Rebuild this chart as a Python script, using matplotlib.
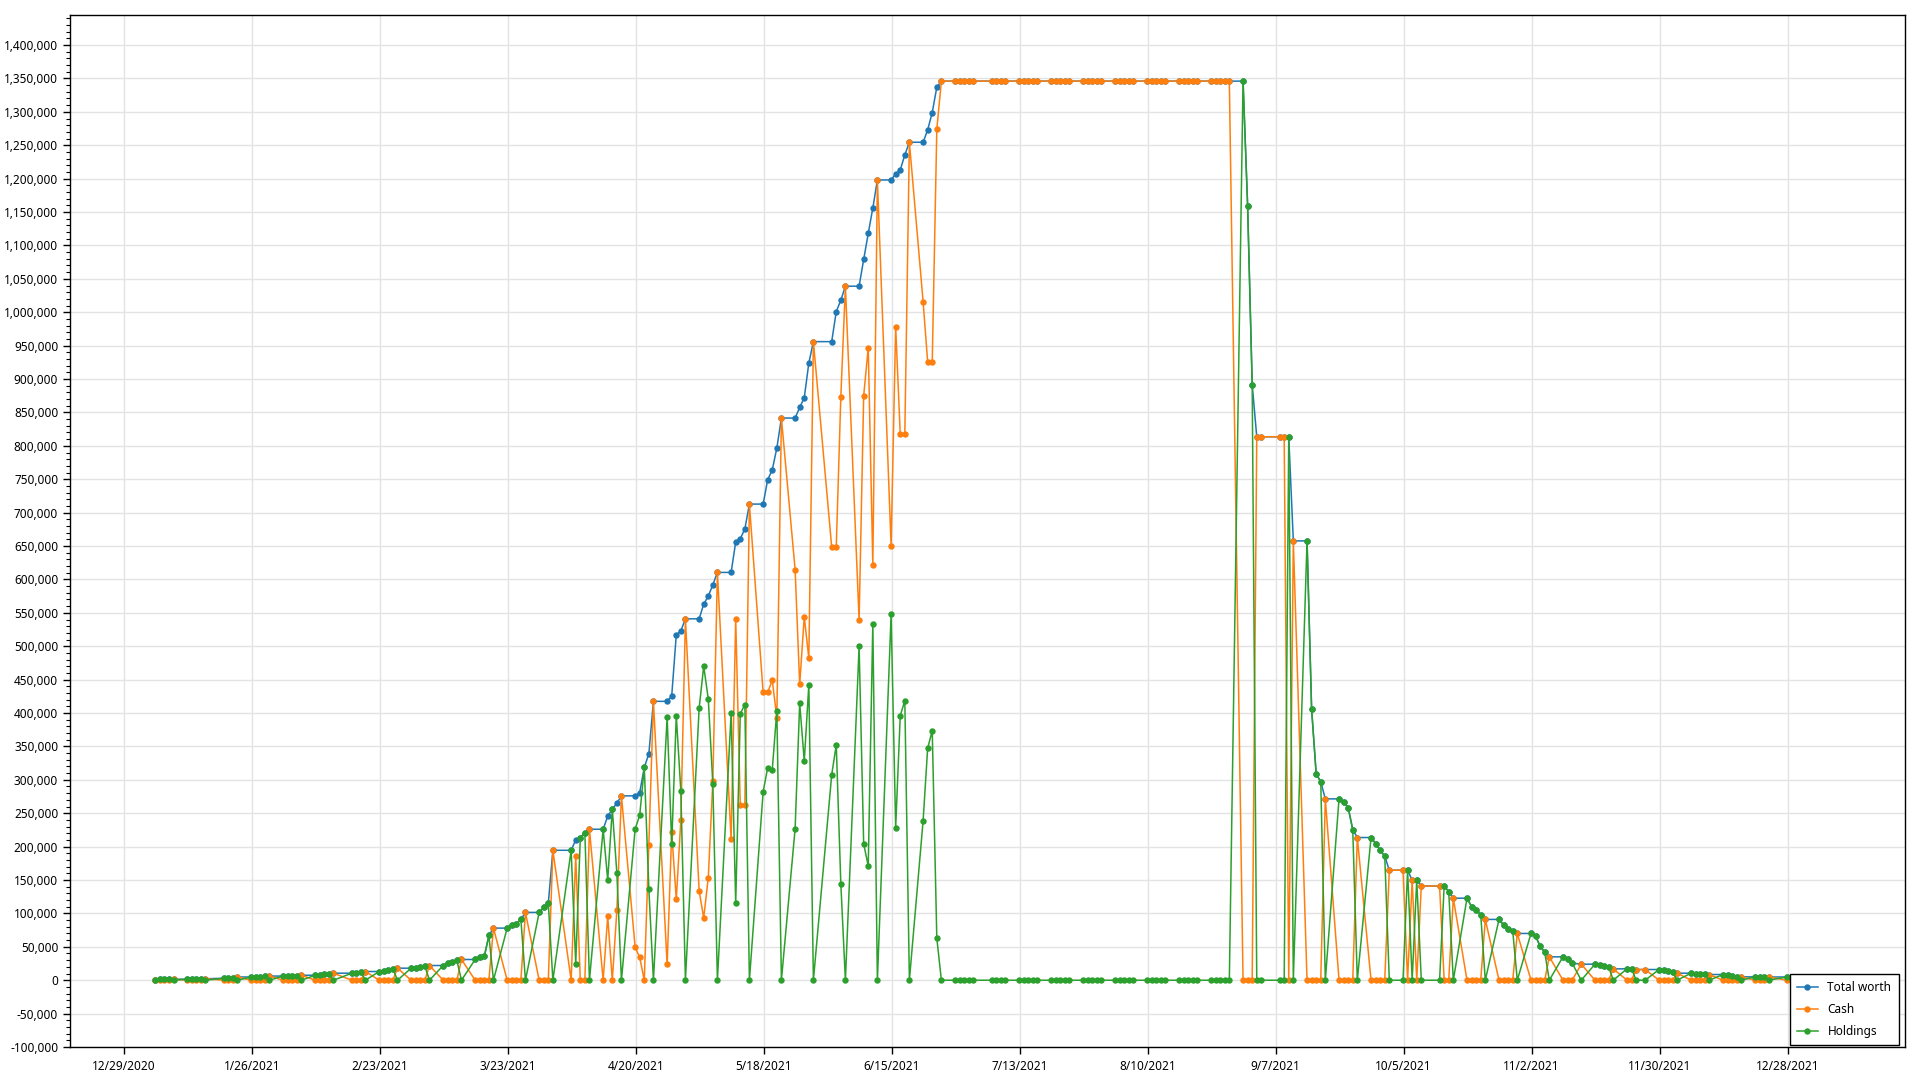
import matplotlib
matplotlib.use("Agg")
import matplotlib.pyplot as plt
import matplotlib.dates as mdates
from matplotlib.ticker import FuncFormatter, MultipleLocator, FixedLocator
import pandas as pd

plt.rcParams['font.family'] = ['Noto Sans', 'DejaVu Sans']

# trading days of 2021 (the data skips these days)
holidays = ['2021-01-18', '2021-02-15', '2021-04-02', '2021-05-31', '2021-07-05',
            '2021-09-06', '2021-10-11', '2021-11-11', '2021-11-25', '2021-12-24']
days = pd.bdate_range('2021-01-04', '2021-12-31').drop(pd.to_datetime(holidays))

# values in thousands, one per trading day, one line per week
total_k = [
    1.0, 1.1, 1.2, 1.3, 1.5,            # Jan 4
    1.5, 1.7, 1.9, 2.0, 2.2,            # Jan 11
    2.8, 3.1, 3.4, 4.8,                 # Jan 19
    4.8, 5.0, 5.3, 5.6, 6.2,            # Jan 25
    6.2, 6.5, 6.8, 7.0, 7.4,            # Feb 1
    7.4, 8.2, 9.0, 9.8, 10.5,           # Feb 8
    10.5, 11.5, 12.3, 13.0,             # Feb 16
    13.0, 14.5, 15.8, 17.0, 18.0,       # Feb 22
    18.0, 19.0, 20.0, 20.8, 22.0,       # Mar 1
    22.0, 25.5, 27.5, 29.5, 31.0,       # Mar 8
    31.0, 34.0, 35.5, 67.0, 78.0,       # Mar 15
    78.0, 82.0, 84.0, 91.0, 101.5,      # Mar 22
    101.5, 109.0, 115.0, 194.5,         # Mar 29
    194.5, 210.0, 213.0, 220.5, 226.0,  # Apr 5
    226.0, 245.5, 256.0, 265.0, 276.0,  # Apr 12
    276.0, 281.0, 318.5, 339.0, 417.5,  # Apr 19
    417.5, 425.5, 517.0, 523.0, 541.0,  # Apr 26
    541.0, 563.0, 575.0, 592.0, 610.5,  # May 3
    610.5, 656.0, 661.0, 675.5, 712.8,  # May 10
    712.8, 749.4, 764.0, 796.7, 841.6,  # May 17
    841.6, 857.5, 872.0, 924.0, 956.0,  # May 24
    956.0, 1001.0, 1018.0, 1039.0,      # Jun 1
    1039.0, 1079.0, 1118.0, 1156.0, 1198.0,  # Jun 7
    1198.0, 1207.0, 1213.0, 1235.6, 1254.5,  # Jun 14
    1254.5, 1273.0, 1299.0, 1337.0, 1346.0,  # Jun 21
    1346.0, 1346.0, 1346.0, 1346.0, 1346.0,  # Jun 28
    1346.0, 1346.0, 1346.0, 1346.0,          # Jul 6
    1346.0, 1346.0, 1346.0, 1346.0, 1346.0,  # Jul 12
    1346.0, 1346.0, 1346.0, 1346.0, 1346.0,  # Jul 19
    1346.0, 1346.0, 1346.0, 1346.0, 1346.0,  # Jul 26
    1346.0, 1346.0, 1346.0, 1346.0, 1346.0,  # Aug 2
    1346.0, 1346.0, 1346.0, 1346.0, 1346.0,  # Aug 9
    1346.0, 1346.0, 1346.0, 1346.0, 1346.0,  # Aug 16
    1346.0, 1346.0, 1346.0, 1346.0, 1346.0,  # Aug 23
    1346.0, 1159.5, 891.6, 813.6, 813.6,     # Aug 30
    813.6, 813.6, 813.6, 657.7,              # Sep 7
    657.7, 406.0, 309.0, 297.0, 271.5,  # Sep 13
    271.5, 266.5, 258.5, 225.5, 213.6,  # Sep 20
    213.6, 204.6, 194.6, 185.6, 164.7,  # Sep 27
    164.7, 164.7, 149.7, 149.7, 141.0,  # Oct 4
    141.0, 141.0, 132.7, 122.8,         # Oct 12
    122.8, 110.0, 105.0, 98.0, 91.0,    # Oct 18
    91.0, 83.0, 77.0, 74.0, 70.0,       # Oct 25
    70.0, 66.0, 51.0, 42.0, 35.0,       # Nov 1
    35.0, 32.0, 25.5, 24.0,             # Nov 8
    24.0, 22.5, 21.0, 19.5, 17.0,       # Nov 15
    17.0, 17.0, 16.0, 16.0,             # Nov 22
    16.0, 15.0, 13.5, 12.0, 10.5,       # Nov 29
    10.5, 10.0, 9.5, 9.0, 8.5,          # Dec 6
    8.5, 7.5, 6.5, 5.5, 5.0,            # Dec 13
    5.0, 5.0, 5.0, 4.8,                 # Dec 20
    4.8, 4.5, 4.3, 4.0, 3.8,            # Dec 27
]

cash_k = [
    0, 0, 0, 0, 1.5,
    0, 0, 0, 0, 2.2,
    0, 0, 0, 4.8,
    0, 0, 0, 0, 6.2,
    0, 0, 0, 0, 7.4,
    0, 0, 0, 0, 10.5,
    0, 0, 0, 13.0,
    0, 0, 0, 0, 18.0,
    0, 0, 0, 0, 22.0,
    0, 0, 0, 0, 31.0,
    0, 0, 0, 0, 78.0,
    0, 0, 0, 0, 101.5,
    0, 0, 0, 194.5,
    0, 185.5, 0, 0, 226.0,
    0, 95.5, 0, 104.5, 276.0,
    49.5, 34.0, 0, 203.0, 417.5,
    23.6, 222.0, 121.0, 240.0, 541.0,
    134.0, 93.0, 153.7, 298.5, 610.5,
    211.0, 541.0, 262.0, 263.0, 712.8,
    431.0, 431.0, 449.0, 393.0, 841.6,
    614.7, 442.7, 544.0, 482.0, 956.0,
    648.7, 648.7, 873.7, 1039.0,
    539.0, 875.0, 947.0, 622.0, 1198.0,
    650.5, 978.5, 817.0, 817.0, 1254.5,
    1016.0, 925.6, 925.6, 1274.0, 1346.0,
    1346.0, 1346.0, 1346.0, 1346.0, 1346.0,
    1346.0, 1346.0, 1346.0, 1346.0,
    1346.0, 1346.0, 1346.0, 1346.0, 1346.0,
    1346.0, 1346.0, 1346.0, 1346.0, 1346.0,
    1346.0, 1346.0, 1346.0, 1346.0, 1346.0,
    1346.0, 1346.0, 1346.0, 1346.0, 1346.0,
    1346.0, 1346.0, 1346.0, 1346.0, 1346.0,
    1346.0, 1346.0, 1346.0, 1346.0, 1346.0,
    1346.0, 1346.0, 1346.0, 1346.0, 1346.0,
    0, 0, 0, 813.6, 813.6,
    813.6, 813.6, 0, 657.7,
    0, 0, 0, 0, 271.5,
    0, 0, 0, 0, 213.6,
    0, 0, 0, 0, 164.7,
    164.7, 0, 149.7, 0, 141.0,
    141.0, 0, 0, 122.8,
    0, 0, 0, 0, 91.0,
    0, 0, 0, 0, 70.0,
    0, 0, 0, 0, 35.0,
    0, 0, 0, 24.0,
    0, 0, 0, 0, 17.0,
    0, 0, 16.0, 16.0,
    0, 0, 0, 0, 10.5,
    0, 0, 0, 0, 8.5,
    0, 0, 0, 0, 5.0,
    0, 0, 0, 4.8,
    0, 0, 0, 0, 3.8,
]

holdings_k = [
    1.0, 1.1, 1.2, 1.3, 0,
    1.5, 1.7, 1.9, 2.0, 0,
    2.8, 3.1, 3.4, 0,
    4.8, 5.0, 5.3, 5.6, 0,
    6.2, 6.5, 6.8, 7.0, 0,
    7.4, 8.2, 9.0, 9.8, 0,
    10.5, 11.5, 12.3, 0,
    13.0, 14.5, 15.8, 17.0, 0,
    18.0, 19.0, 20.0, 20.8, 0,
    22.0, 25.5, 27.5, 29.5, 0,
    31.0, 34.0, 35.5, 67.0, 0,
    78.0, 82.0, 84.0, 91.0, 0,
    101.5, 109.0, 115.0, 0,
    194.5, 24.5, 213.0, 220.5, 0,
    226.0, 150.0, 256.0, 160.5, 0,
    226.5, 247.0, 318.5, 136.0, 0,
    393.9, 203.5, 396.0, 283.0, 0,
    407.0, 470.0, 421.3, 293.5, 0,
    399.5, 115.0, 399.0, 412.5, 0,
    281.8, 318.4, 315.0, 403.7, 0,
    226.9, 414.8, 328.0, 442.0, 0,
    307.3, 352.3, 144.3, 0,
    500.0, 204.0, 171.0, 534.0, 0,
    547.5, 228.5, 396.0, 418.6, 0,
    238.5, 347.4, 373.4, 63.0, 0,
    0, 0, 0, 0, 0,
    0, 0, 0, 0,
    0, 0, 0, 0, 0,
    0, 0, 0, 0, 0,
    0, 0, 0, 0, 0,
    0, 0, 0, 0, 0,
    0, 0, 0, 0, 0,
    0, 0, 0, 0, 0,
    0, 0, 0, 0, 0,
    1346.0, 1159.5, 891.6, 0, 0,
    0, 0, 813.6, 0,
    657.7, 406.0, 309.0, 297.0, 0,
    271.5, 266.5, 258.5, 225.5, 0,
    213.6, 204.6, 194.6, 185.6, 0,
    0, 164.7, 0, 149.7, 0,
    0, 141.0, 132.7, 0,
    122.8, 110.0, 105.0, 98.0, 0,
    91.0, 83.0, 77.0, 74.0, 0,
    70.0, 66.0, 51.0, 42.0, 0,
    35.0, 32.0, 25.5, 0,
    24.0, 22.5, 21.0, 19.5, 0,
    17.0, 17.0, 0, 0,
    16.0, 15.0, 13.5, 12.0, 0,
    10.5, 10.0, 9.5, 9.0, 0,
    8.5, 7.5, 6.5, 5.5, 0,
    5.0, 5.0, 5.0, 0,
    4.8, 4.5, 4.3, 4.0, 0,
]

# points are stamped in the evening of each day
x = days + pd.Timedelta(hours=21)
total = [v * 1000 for v in total_k]
cash = [v * 1000 for v in cash_k]
holdings = [v * 1000 for v in holdings_k]

fig = plt.figure(figsize=(19.2, 10.8), dpi=100)
ax = fig.add_axes([70 / 1920, 33 / 1080, 1835 / 1920, 1032 / 1080])

style = dict(lw=1.1, marker='o', ms=4.6, mew=0)
ax.plot(x, total, color='#1f77b4', label='Total worth', zorder=3, **style)
ax.plot(x, cash, color='#ff7f0e', label='Cash', zorder=4, **style)
ax.plot(x, holdings, color='#2ca02c', label='Holdings', zorder=5, **style)

# axes
start = pd.Timestamp('2020-12-29')
ax.set_xlim(start - pd.Timedelta(days=11.77), start + pd.Timedelta(days=389.7))
ax.set_ylim(-100000, 1445000)

ticks = pd.date_range('2020-12-29', '2022-01-20', freq='28D')
ax.xaxis.set_major_locator(FixedLocator(mdates.date2num(ticks)))
ax.xaxis.set_major_formatter(FuncFormatter(
    lambda v, p: (lambda d: f"{d.month}/{d.day}/{d.year}")(mdates.num2date(v))))
ax.yaxis.set_major_locator(MultipleLocator(50000))
ax.yaxis.set_minor_locator(MultipleLocator(10000))
ax.yaxis.set_major_formatter(FuncFormatter(lambda v, p: f"{v:,.0f}"))

ax.grid(True, which='major', color='#e3e3e3', lw=1, zorder=0)
ax.set_axisbelow(True)
for s in ax.spines.values():
    s.set_color('black')
    s.set_linewidth(1)
ax.tick_params(axis='both', which='major', labelsize=8.5, length=5, width=1, color='black')
ax.tick_params(axis='y', which='minor', length=3, width=0.8, color='black')
ax.tick_params(axis='x', pad=4)

leg = ax.legend(loc='lower right', bbox_to_anchor=(0.9965, 0.002), borderaxespad=0,
                fancybox=False, framealpha=1, edgecolor='black', fontsize=8.5,
                handlelength=1.8, labelspacing=0.75, borderpad=0.6)
leg.get_frame().set_linewidth(1)
leg.set_zorder(10)

fig.savefig('out.png', dpi=100)
